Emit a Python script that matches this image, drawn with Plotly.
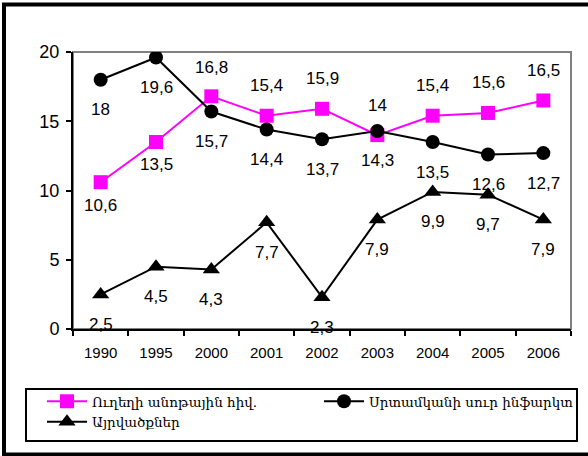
import plotly.graph_objects as go

years = ["1990", "1995", "2000", "2001", "2002", "2003", "2004", "2005", "2006"]
stroke = [10.6, 13.5, 16.8, 15.4, 15.9, 14.0, 15.4, 15.6, 16.5]
infarct = [18.0, 19.6, 15.7, 14.4, 13.7, 14.3, 13.5, 12.6, 12.7]
burns = [2.5, 4.5, 4.3, 7.7, 2.3, 7.9, 9.9, 9.7, 7.9]

names = ["Ուղեղի անոթային հիվ.", "Սրտամկանի սուր ինֆարկտ", "Այրվածքներ"]

W, H = 588, 456
ML, MR, MT, MB = 73, 17, 52, 127
PW, PH = W - ML - MR, H - MT - MB


def px_x(p):
    return (p - ML) / PW


def px_y(p):
    return (H - MB - p) / PH


def fmt(v):
    return f"{v:g}".replace(".", ",")


fig = go.Figure()
fig.add_trace(go.Scatter(x=years, y=stroke, name=names[0], mode="lines+markers",
                         line=dict(color="#FF00FF", width=2), legend="legend",
                         marker=dict(symbol="square", size=14, color="#FF00FF")))
fig.add_trace(go.Scatter(x=years, y=infarct, name=names[1], mode="lines+markers",
                         line=dict(color="black", width=2), legend="legend2",
                         marker=dict(symbol="circle", size=14, color="black")))
fig.add_trace(go.Scatter(x=years, y=burns, name=names[2], mode="lines+markers",
                         line=dict(color="black", width=2), legend="legend",
                         marker=dict(symbol="triangle-up", size=15, color="black")))

label_font = dict(family="Arial, Liberation Sans, sans-serif", size=17, color="black")
annotations = []
stroke_shift = [-23, -22, 29, 30, 30, 30, 30, 30, 30]
# category axis: annotations are placed by category index
for i, v in enumerate(stroke):
    annotations.append(dict(x=i, y=v, xref="x", yref="y", text=fmt(v), showarrow=False,
                            yshift=stroke_shift[i], font=label_font))
for series in (infarct, burns):
    for i, v in enumerate(series):
        annotations.append(dict(x=i, y=v, xref="x", yref="y", text=fmt(v), showarrow=False,
                                yshift=-30, font=label_font))

shapes = [
    dict(type="rect", xref="paper", yref="paper", x0=0, x1=1, y0=0, y1=1,
         line=dict(color="#808080", width=2), layer="below"),
    dict(type="rect", xref="paper", yref="paper",
         x0=px_x(4), x1=px_x(594), y0=px_y(454.5), y1=px_y(4.5),
         line=dict(color="black", width=4)),
    dict(type="rect", xref="paper", yref="paper",
         x0=px_x(26), x1=px_x(577), y0=px_y(441), y1=px_y(389),
         line=dict(color="black", width=2)),
]

tickfont = dict(family="Arial, Liberation Sans, sans-serif", color="black")
legend_font = dict(family="DejaVu Serif, serif", size=13.5, color="black")
legend_common = dict(orientation="v", xref="container", yref="container",
                     xanchor="left", yanchor="top", font=legend_font,
                     bgcolor="rgba(0,0,0,0)", borderwidth=0, itemwidth=40,
                     tracegroupgap=0)

fig.update_layout(
    width=W, height=H,
    margin=dict(l=ML, r=MR, t=MT, b=MB, pad=0, autoexpand=False),
    paper_bgcolor="white", plot_bgcolor="white",
    showlegend=True,
    annotations=annotations,
    shapes=shapes,
    legend=dict(x=42 / W, y=1 - 386 / H, **legend_common),
    legend2=dict(x=319 / W, y=1 - 386 / H, **legend_common),
    xaxis=dict(type="category", range=[-0.5, 8.5], showline=True, linecolor="black",
               linewidth=2, ticks="outside", tickson="boundaries", ticklen=5,
               tickwidth=2, tickcolor="black", showgrid=False, zeroline=False,
               ticklabelstandoff=9, automargin=False,
               tickfont=dict(size=15, **tickfont)),
    yaxis=dict(range=[0, 20], dtick=5, showline=True, linecolor="black", linewidth=2,
               ticks="outside", ticklen=5, tickwidth=2, tickcolor="black",
               showgrid=False, zeroline=False, ticklabelstandoff=3, automargin=False,
               tickfont=dict(size=18, **tickfont)),
)

fig.write_html("out.html", config={"displayModeBar": False},
               post_script="document.body.style.margin='0px';")
